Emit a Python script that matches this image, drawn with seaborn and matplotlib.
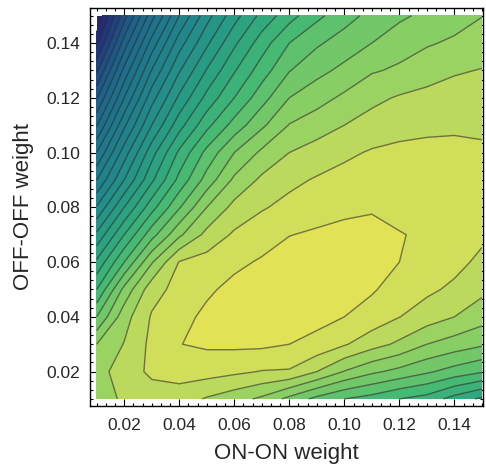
import numpy as np
import matplotlib
matplotlib.use("Agg")
import matplotlib.pyplot as plt
from matplotlib.ticker import MultipleLocator, FormatStrFormatter
from matplotlib.colors import LinearSegmentedColormap
import seaborn as sns

# grid of weights
on_on = [0.01, 0.02, 0.03, 0.04, 0.05, 0.06, 0.07, 0.08, 0.09, 0.10, 0.11, 0.12, 0.13, 0.14, 0.15]
off_off = [0.01, 0.02, 0.03, 0.04, 0.05, 0.06, 0.07, 0.08, 0.09, 0.10, 0.11, 0.12, 0.13, 0.14, 0.15]

# score, one row per OFF-OFF value (bottom -> top)
z_001 = [24.4, 25.2, 25.5, 25.5, 24.9, 24.4, 23.8, 22.7, 21.7, 21.0, 20.6, 20.0, 19.6, 18.6, 17.8]
z_002 = [24.6, 25.5, 26.2, 26.4, 26.4, 26.2, 25.95, 25.9, 25.0, 23.95, 23.2, 22.7, 22.15, 21.6, 21.1]
z_003 = [24.0, 25.05, 26.25, 26.98, 27.15, 27.2, 27.2, 27.0, 26.7, 26.1, 25.4, 24.8, 24.0, 23.55, 23.15]
z_004 = [22.0, 24.6, 26.1, 26.7, 27.2, 27.4, 27.45, 27.45, 27.3, 27.0, 26.6, 26.02, 25.5, 25.0, 24.42]
z_005 = [20.0, 23.3, 25.6, 26.35, 26.85, 27.25, 27.55, 27.65, 27.6, 27.5, 27.1, 26.6, 26.2, 25.8, 25.24]
z_006 = [18.2, 21.0, 23.9, 26.05, 26.4, 26.8, 27.1, 27.5, 27.5, 27.5, 27.4, 27.0, 26.75, 26.3, 25.77]
z_007 = [16.2, 19.0, 21.6, 23.8, 25.3, 26.15, 26.6, 26.97, 27.15, 27.25, 27.3, 27.05, 26.85, 26.5, 26.2]
z_008 = [14.1, 17.0, 19.6, 21.9, 24.0, 25.3, 25.9, 26.3, 26.55, 26.8, 26.9, 26.7, 26.7, 26.55, 26.35]
z_009 = [12.0, 15.0, 17.8, 20.3, 22.4, 24.2, 25.2, 25.75, 26.1, 26.35, 26.5, 26.45, 26.5, 26.45, 26.3]
z_010 = [10.0, 13.5, 16.6, 19.2, 21.3, 23.0, 24.2, 25.0, 25.4, 25.8, 26.1, 26.2, 26.25, 26.25, 26.15]
z_011 = [7.9, 11.8, 15.0, 17.6, 19.7, 21.4, 22.8, 24.05, 24.55, 25.0, 25.4, 25.7, 25.8, 25.85, 25.83]
z_012 = [5.9, 10.0, 13.6, 16.2, 18.3, 20.0, 21.6, 23.0, 23.6, 24.2, 24.75, 25.1, 25.3, 25.4, 25.43]
z_013 = [3.8, 8.3, 12.05, 14.9, 17.07, 18.9, 20.5, 21.95, 22.7, 23.25, 23.9, 24.15, 24.55, 24.9, 25.04]
z_014 = [1.7, 6.45, 10.4, 13.55, 15.8, 17.8, 19.5, 21.0, 21.85, 22.45, 23.0, 23.6, 23.9, 24.15, 24.5]
z_015 = [0.0, 4.6, 8.6, 12.0, 14.6, 16.6, 18.3, 19.6, 20.75, 21.6, 22.3, 22.8, 23.25, 23.6, 23.97]

Z = np.array([z_001, z_002, z_003, z_004, z_005, z_006, z_007, z_008,
              z_009, z_010, z_011, z_012, z_013, z_014, z_015])
X, Y = np.meshgrid(on_on, off_off)

contour_levels = list(range(1, 28))

sns.set_style("ticks")
plt.rcParams['font.family'] = ['Liberation Sans', 'DejaVu Sans']

# blue-green-yellow shading, anchored along the score range
zmin, zmax = Z.min(), Z.max()
anchors = [(0.0, "#26206e"), (2.5, "#21377d"), (6.0, "#1e5f8a"), (9.0, "#1e718c"),
           (14.0, "#218a8b"), (18.0, "#2da580"), (20.5, "#46b973"), (23.3, "#82cd64"),
           (24.5, "#9bd362"), (25.5, "#b9da5d"), (26.5, "#d0de5a"), (zmax, "#e8e455")]
cmap = LinearSegmentedColormap.from_list(
    "bgy", [((v - zmin) / (zmax - zmin), c) for v, c in anchors])

fig = plt.figure(figsize=(4.86, 4.70), dpi=100)
ax = fig.add_axes([90/486, 1-406/470, 393/486, 398/470])

fill_levels = [zmin] + contour_levels + [zmax]
ax.contourf(X, Y, Z, levels=fill_levels, cmap=cmap, vmin=zmin, vmax=zmax)
ax.contour(X, Y, Z, levels=contour_levels, colors='#2b2b2b', linewidths=1.0, alpha=0.6)

ax.set_xlim(0.00756, 0.1504)
ax.set_ylim(0.00744, 0.1528)
ax.xaxis.set_major_locator(MultipleLocator(0.02))
ax.yaxis.set_major_locator(MultipleLocator(0.02))
ax.xaxis.set_minor_locator(MultipleLocator(0.02/6))
ax.yaxis.set_minor_locator(MultipleLocator(0.02/6))
ax.xaxis.set_major_formatter(FormatStrFormatter('%.2f'))
ax.yaxis.set_major_formatter(FormatStrFormatter('%.2f'))
ax.tick_params(which='both', direction='in', top=True, right=True, width=0.8, color='black')
ax.tick_params(which='major', length=5, labelsize=12.5)
ax.tick_params(axis='x', which='major', pad=9)
ax.tick_params(axis='y', which='major', pad=7)
ax.tick_params(which='minor', length=2.5)
for s in ax.spines.values():
    s.set_linewidth(1.0)
    s.set_color('black')

ax.set_xlabel('ON-ON weight', fontsize=16, labelpad=7)
ax.set_ylabel('OFF-OFF weight', fontsize=16, labelpad=9)

fig.savefig('out.png', dpi=100)
